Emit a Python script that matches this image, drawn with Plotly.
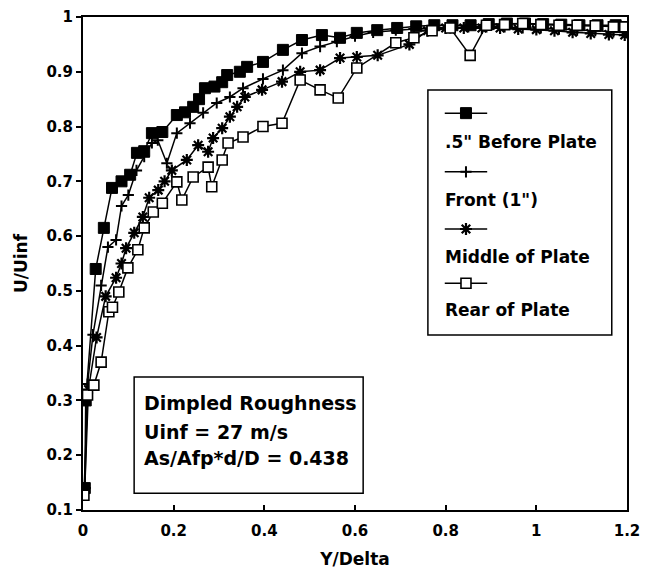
import plotly.graph_objects as go

# ---- data -------------------------------------------------------------
x_before = [0.004, 0.006, 0.028, 0.046, 0.064, 0.085, 0.104, 0.119, 0.135, 0.152, 0.175,
            0.207, 0.225, 0.243, 0.256, 0.269, 0.29, 0.307, 0.318, 0.346, 0.362, 0.397,
            0.441, 0.483, 0.527, 0.567, 0.604, 0.649, 0.693, 0.735, 0.775, 0.815, 0.855,
            0.895, 0.935, 0.975, 1.015, 1.055, 1.095, 1.135, 1.175]
y_before = [0.14, 0.30, 0.54, 0.615, 0.688, 0.70, 0.712, 0.752, 0.755, 0.788, 0.79,
            0.821, 0.826, 0.836, 0.85, 0.87, 0.873, 0.881, 0.894, 0.90, 0.909, 0.918,
            0.94, 0.958, 0.967, 0.962, 0.971, 0.976, 0.98, 0.983, 0.985, 0.985, 0.985,
            0.987, 0.988, 0.988, 0.987, 0.986, 0.985, 0.985, 0.985]

x_front = [0.004, 0.01, 0.022, 0.04, 0.055, 0.073, 0.085, 0.1, 0.118, 0.135, 0.152, 0.165,
           0.185, 0.207, 0.236, 0.265, 0.295, 0.324, 0.353, 0.397, 0.441, 0.483, 0.523,
           0.56, 0.60, 0.64, 0.69, 0.73, 0.77, 0.81, 0.85, 0.89, 0.93, 0.97, 1.01, 1.05,
           1.09, 1.13, 1.17, 1.195]
y_front = [0.14, 0.33, 0.42, 0.51, 0.58, 0.593, 0.655, 0.675, 0.72, 0.745, 0.77, 0.775,
           0.733, 0.788, 0.806, 0.825, 0.843, 0.854, 0.87, 0.887, 0.903, 0.934, 0.946,
           0.955, 0.965, 0.972, 0.976, 0.978, 0.98, 0.98, 0.982, 0.982, 0.982, 0.98,
           0.98, 0.978, 0.976, 0.975, 0.973, 0.972]

x_middle = [0.004, 0.012, 0.03, 0.05, 0.073, 0.085, 0.095, 0.113, 0.132, 0.146, 0.166,
            0.18, 0.196, 0.229, 0.254, 0.276, 0.287, 0.307, 0.324, 0.34, 0.357, 0.395,
            0.439, 0.479, 0.523, 0.567, 0.604, 0.65, 0.72, 0.76, 0.80, 0.84, 0.88, 0.92,
            0.96, 1.0, 1.04, 1.08, 1.12, 1.16, 1.195]
y_middle = [0.14, 0.32, 0.415, 0.49, 0.524, 0.55, 0.578, 0.606, 0.635, 0.67, 0.684,
            0.70, 0.72, 0.739, 0.766, 0.754, 0.779, 0.797, 0.818, 0.836, 0.854, 0.867,
            0.882, 0.90, 0.903, 0.925, 0.927, 0.93, 0.95, 0.975, 0.98, 0.98, 0.98, 0.98,
            0.978, 0.977, 0.975, 0.972, 0.97, 0.968, 0.967]

x_rear = [0.002, 0.01, 0.024, 0.04, 0.057, 0.065, 0.079, 0.099, 0.121, 0.135, 0.155,
          0.175, 0.207, 0.218, 0.243, 0.276, 0.284, 0.307, 0.32, 0.353, 0.397, 0.439,
          0.479, 0.523, 0.563, 0.604, 0.69, 0.73, 0.77, 0.81, 0.854, 0.89, 0.93, 0.97,
          1.01, 1.05, 1.09, 1.13, 1.17, 1.195]
y_rear = [0.127, 0.31, 0.328, 0.37, 0.462, 0.47, 0.498, 0.542, 0.575, 0.615, 0.644,
          0.66, 0.699, 0.666, 0.708, 0.726, 0.69, 0.739, 0.77, 0.781, 0.80, 0.806,
          0.885, 0.867, 0.852, 0.907, 0.953, 0.962, 0.975, 0.98, 0.93, 0.985, 0.986,
          0.988, 0.986, 0.985, 0.985, 0.984, 0.982, 0.982]

series_names = ['.5" Before Plate', 'Front (1")', 'Middle of Plate', 'Rear of Plate']
x_ticks = [0, 0.2, 0.4, 0.6, 0.8, 1.0, 1.2]
x_ticklabels = ["0", "0.2", "0.4", "0.6", "0.8", "1", "1.2"]
y_ticks = [0.1, 0.2, 0.3, 0.4, 0.5, 0.6, 0.7, 0.8, 0.9, 1.0]
y_ticklabels = ["0.1", "0.2", "0.3", "0.4", "0.5", "0.6", "0.7", "0.8", "0.9", "1"]
info_lines = ["Dimpled Roughness", "Uinf = 27 m/s", "As/Afp*d/D = 0.438"]

# ---- styles -----------------------------------------------------------
FONT = "DejaVu Sans"
styles = [
    dict(symbol="square", size=11, color="black", line=dict(color="black", width=1)),
    dict(symbol="cross-thin", size=8, color="black", line=dict(color="black", width=2)),
    dict(symbol="asterisk", size=10, color="black", line=dict(color="black", width=2.2)),
    dict(symbol="square", size=10, color="white", line=dict(color="black", width=1.6)),
]

fig = go.Figure()
data = [(x_before, y_before), (x_front, y_front), (x_middle, y_middle), (x_rear, y_rear)]
for (xs, ys), name, st in zip(data, series_names, styles):
    fig.add_trace(go.Scatter(x=xs, y=ys, mode="lines+markers", name=name,
                             line=dict(color="black", width=1.5), marker=st,
                             showlegend=False))

# ---- manual legend (sample on one row, label on the next) --------------
leg_left, leg_right = 0.665, 0.743
sample_rows = [0.805, 0.686, 0.570, 0.460]
label_rows = [0.746, 0.629, 0.513, 0.406]
for row, st in zip(sample_rows, styles):
    fig.add_trace(go.Scatter(x=[leg_left, leg_right], y=[row, row], mode="lines",
                             line=dict(color="black", width=1.5),
                             xaxis="x2", yaxis="y2", showlegend=False, hoverinfo="skip"))
    fig.add_trace(go.Scatter(x=[(leg_left + leg_right) / 2], y=[row], mode="markers",
                             marker=st, xaxis="x2", yaxis="y2", showlegend=False,
                             hoverinfo="skip"))
for row, name in zip(label_rows, series_names):
    fig.add_annotation(x=leg_left - 0.003, y=row, xref="paper", yref="paper", text=name,
                       showarrow=False, xanchor="left", yanchor="middle",
                       font=dict(family=FONT, size=17, color="black", weight="bold"))
fig.add_shape(type="rect", xref="paper", yref="paper", x0=0.634, x1=0.972, y0=0.355, y1=0.852,
              line=dict(color="black", width=1.5), fillcolor="white", layer="below")

# ---- info box ---------------------------------------------------------
for row, txt in zip([0.217, 0.158, 0.105], info_lines):
    fig.add_annotation(x=0.108, y=row, xref="paper", yref="paper", text=txt,
                       showarrow=False, xanchor="left", yanchor="middle",
                       font=dict(family=FONT, size=19, color="black", weight="bold"))
fig.add_shape(type="rect", xref="paper", yref="paper", x0=0.094, x1=0.515, y0=0.034, y1=0.270,
              line=dict(color="black", width=1.5), fillcolor="white", layer="below")

tickfont = dict(family=FONT, size=15, color="black", weight="bold")
titlefont = dict(family=FONT, size=17, color="black", weight="bold")
fig.update_layout(
    width=646, height=573,
    margin=dict(l=83, r=19, t=17, b=63),
    paper_bgcolor="white", plot_bgcolor="white",
    xaxis=dict(range=[0, 1.2], tickvals=x_ticks, ticktext=x_ticklabels, automargin=False,
               showgrid=False, zeroline=False, showline=True, linecolor="black",
               linewidth=2, mirror=True, ticks="inside", ticklen=5, tickwidth=1.5,
               tickcolor="black", tickfont=tickfont, ticklabelstandoff=6,
               title=dict(text="Y/Delta", font=titlefont, standoff=14)),
    yaxis=dict(range=[0.1, 1.0], tickvals=y_ticks, ticktext=y_ticklabels, automargin=False,
               showgrid=False, zeroline=False, showline=True, linecolor="black",
               linewidth=2, mirror=True, ticks="outside", ticklen=5, tickwidth=1.5,
               tickcolor="black", tickfont=tickfont,
               title=dict(text="U/Uinf", font=titlefont, standoff=14)),
    xaxis2=dict(overlaying="x", range=[0, 1], visible=False),
    yaxis2=dict(overlaying="y", range=[0, 1], visible=False),
    showlegend=False,
)
fig.write_html("out.html", config={"displayModeBar": False},
               post_script="document.body.style.margin='0px';document.body.style.overflow='hidden';")
